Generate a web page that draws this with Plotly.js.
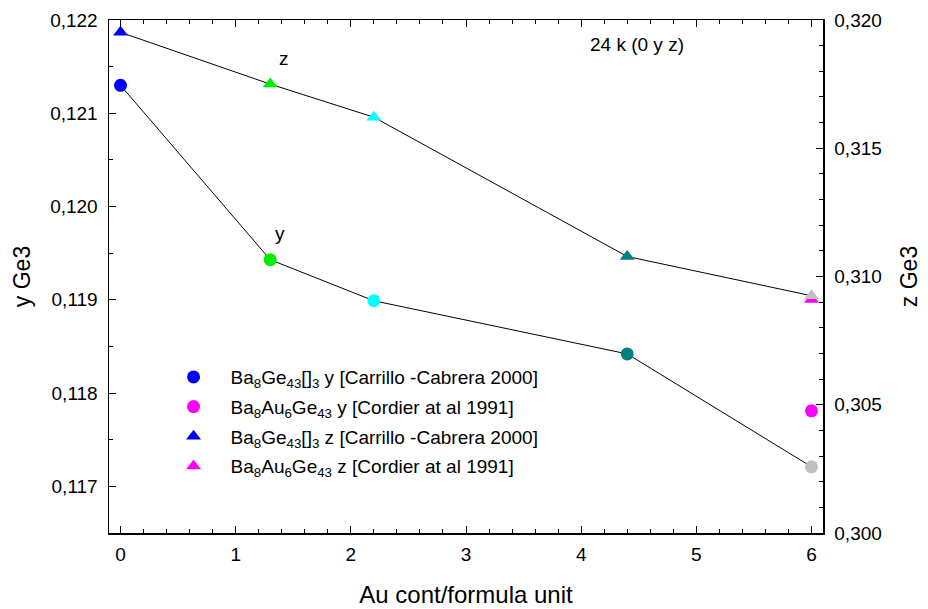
<!DOCTYPE html>
<html>
<head>
<meta charset="utf-8">
<script src="https://cdn.plot.ly/plotly-3.0.1.min.js"></script>
<style>
html,body{margin:0;padding:0;background:#fff;}
#chart{width:928px;height:609px;}
</style>
</head>
<body>
<div id="chart"></div>
<script>
// Data
const auContent = [0, 1.3, 2.2, 4.4, 6];
const yGe3 = [0.1213, 0.11943, 0.11899, 0.11842, 0.11721];
const zGe3 = [0.31952, 0.3175, 0.31621, 0.31078, 0.30925];
const pointColors = ['#0000ff', '#00ee00', '#00ffff', '#008080', '#c0c0c0'];
const cordierX = [6];
const cordierY = [0.11781];
const cordierZ = [0.3091];
const legendNames = [
  'Ba<sub>8</sub>Ge<sub>43</sub>[]<sub>3</sub> y [Carrillo -Cabrera 2000]',
  'Ba<sub>8</sub>Au<sub>6</sub>Ge<sub>43</sub> y [Cordier at al 1991]',
  'Ba<sub>8</sub>Ge<sub>43</sub>[]<sub>3</sub> z [Carrillo -Cabrera 2000]',
  'Ba<sub>8</sub>Au<sub>6</sub>Ge<sub>43</sub> z [Cordier at al 1991]'
];
const xTicks = [0, 1, 2, 3, 4, 5, 6];
const yTicks = [0.117, 0.118, 0.119, 0.120, 0.121, 0.122];
const zTicks = [0.300, 0.305, 0.310, 0.315, 0.320];

const FONT = 'Liberation Sans, Arial, sans-serif';

const traces = [
  // z series line (right axis)
  {x: auContent, y: zGe3, yaxis: 'y2', mode: 'lines', line: {color: '#000', width: 1}, showlegend: false, hoverinfo: 'skip'},
  // y series line
  {x: auContent, y: yGe3, mode: 'lines', line: {color: '#000', width: 1}, showlegend: false, hoverinfo: 'skip'},
  {x: auContent, y: yGe3, mode: 'markers', name: legendNames[0], legendgroup: 'a',
   marker: {symbol: 'circle', size: 13, color: pointColors}},
  {x: cordierX, y: cordierY, mode: 'markers', name: legendNames[1], legendgroup: 'b',
   marker: {symbol: 'circle', size: 13, color: '#ff00ff'}},
  // Cordier z point drawn beneath the grey triangle
  {x: cordierX, y: cordierZ, yaxis: 'y2', mode: 'markers', name: legendNames[3], showlegend: false,
   marker: {symbol: 'triangle-up', size: 13, color: '#ff00ff'}},
  {x: auContent, y: zGe3, yaxis: 'y2', mode: 'markers', name: legendNames[2], legendgroup: 'c',
   marker: {symbol: 'triangle-up', size: 13, color: pointColors}},
  // legend entry for the Cordier z point
  {x: [null], y: [null], yaxis: 'y2', mode: 'markers', name: legendNames[3], legendgroup: 'd',
   marker: {symbol: 'triangle-up', size: 13, color: '#ff00ff'}}
];

const layout = {
  width: 928, height: 609,
  margin: {l: 109, r: 105, t: 20, b: 76},
  paper_bgcolor: '#fff', plot_bgcolor: '#fff',
  separators: ', ',
  font: {family: FONT, size: 19, color: '#000'},
  showlegend: true,
  legend: {
    x: 0.0666, y: 0.341, xanchor: 'left', yanchor: 'top',
    bgcolor: 'rgba(0,0,0,0)', borderwidth: 0,
    font: {family: FONT, size: 19, color: '#000'},
    itemwidth: 64, tracegroupgap: 2, traceorder: 'grouped'
  },
  xaxis: {
    range: [-0.1, 6.1], tickmode: 'array', tickvals: xTicks,
    ticks: 'inside', ticklen: 7, tickwidth: 1, tickcolor: '#000',
    minor: {dtick: 0.2, ticks: 'inside', ticklen: 4, tickcolor: '#000', showgrid: false},
    showline: true, linecolor: '#000', linewidth: 1.5, mirror: 'ticks',
    showgrid: false, zeroline: false,
    ticklabelstandoff: 4,
    title: {text: 'Au cont/formula unit', font: {family: FONT, size: 24}, standoff: 22}
  },
  yaxis: {
    range: [0.1165, 0.122], tickmode: 'array', tickvals: yTicks, tickformat: '.3f',
    ticks: 'inside', ticklen: 7, tickwidth: 1, tickcolor: '#000',
    minor: {dtick: 0.0005, ticks: 'inside', ticklen: 4, tickcolor: '#000', showgrid: false},
    showline: true, linecolor: '#000', linewidth: 1.5,
    showgrid: false, zeroline: false,
    ticklabelstandoff: 6,
    title: {text: 'y Ge3', font: {family: FONT, size: 23}, standoff: 13}
  },
  yaxis2: {
    overlaying: 'y', side: 'right',
    range: [0.300, 0.320], tickmode: 'array', tickvals: zTicks, tickformat: '.3f',
    ticks: 'inside', ticklen: 7, tickwidth: 1, tickcolor: '#000',
    minor: {dtick: 0.001, ticks: 'inside', ticklen: 4, tickcolor: '#000', showgrid: false},
    showline: true, linecolor: '#000', linewidth: 1.5,
    showgrid: false, zeroline: false,
    ticklabelstandoff: 6,
    title: {text: 'z Ge3', font: {family: FONT, size: 23}, standoff: 20}
  },
  annotations: [
    {x: 1.3, y: 0.3175, xref: 'x', yref: 'y2', text: 'z', showarrow: false, xshift: 14, yshift: 26, font: {size: 19}},
    {x: 1.3, y: 0.11943, xref: 'x', yref: 'y', text: 'y', showarrow: false, xshift: 10, yshift: 26, font: {size: 19}},
    {x: 0.739, y: 0.953, xref: 'paper', yref: 'paper', xanchor: 'center', yanchor: 'middle',
     text: '24 k (0 y z)', showarrow: false, font: {size: 19}}
  ]
};

Plotly.newPlot('chart', traces, layout, {displayModeBar: false, staticPlot: true});
</script>
</body>
</html>
